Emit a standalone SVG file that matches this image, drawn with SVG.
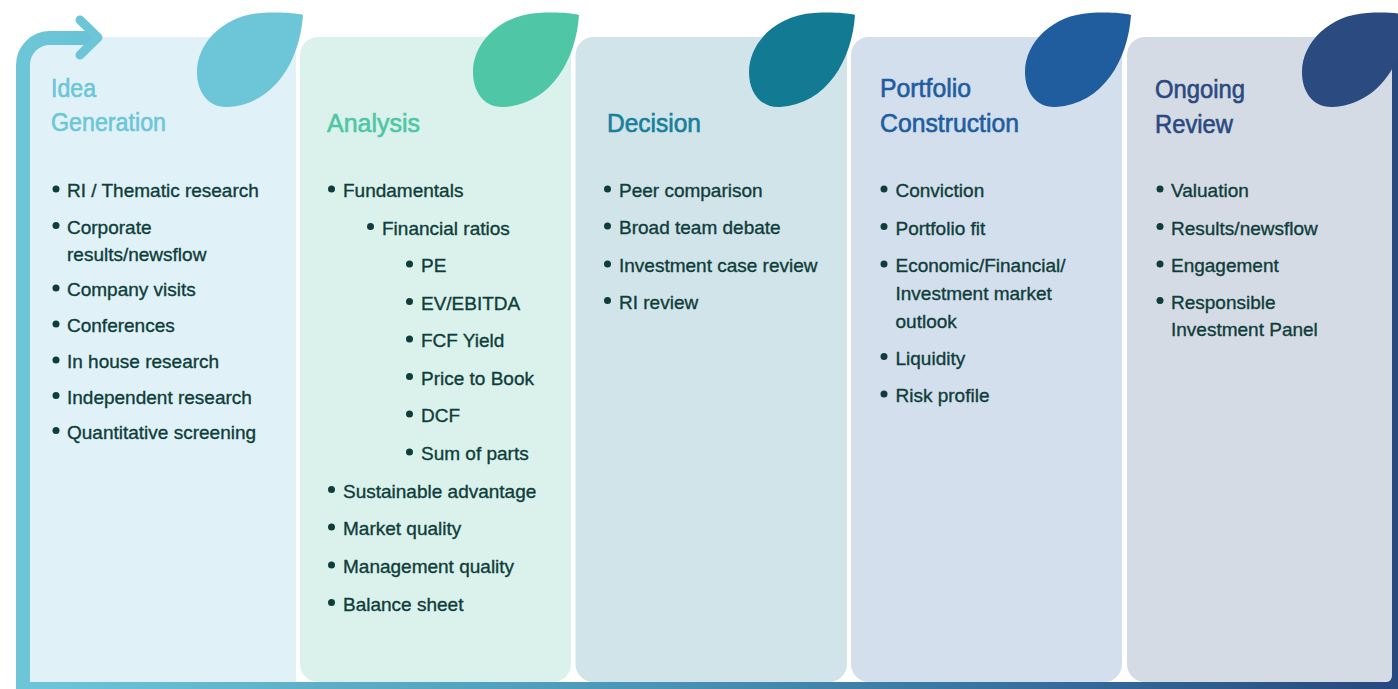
<svg xmlns="http://www.w3.org/2000/svg" width="1398" height="689" viewBox="0 0 1398 689">
<defs>
<linearGradient id="frameGrad" gradientUnits="userSpaceOnUse" x1="30" y1="0" x2="1398" y2="0">
<stop offset="0" stop-color="#6dc6d8"/>
<stop offset="0.45" stop-color="#4a95b6"/>
<stop offset="0.75" stop-color="#356c9b"/>
<stop offset="1" stop-color="#284880"/>
</linearGradient>
<path id="leaf" d="M 303,15 C 300,60 275,104 228,107 C 208,108 197,92 197,72 C 197,42 225,15 262,13 C 280,12 295,13 303,15 Z"/>
</defs>
<style>
.title{font-family:"Liberation Sans",Arial,sans-serif;font-size:25px;stroke-width:0.6px}
.item{font-family:"Liberation Sans",Arial,sans-serif;font-size:19px;fill:#0f3d3a;stroke:#0f3d3a;stroke-width:0.35px}
.dot{fill:#0f3d3a}
</style>
<rect width="1398" height="689" fill="#ffffff"/>

<g id="panels">
<rect x="24" y="37" width="272" height="660" rx="18" fill="#e0f2f7"/>
<rect x="300" y="37" width="271" height="645" rx="18" fill="#dbf2ec"/>
<rect x="575.5" y="37" width="271.5" height="645" rx="18" fill="#d1e4ea"/>
<rect x="851" y="37" width="271" height="645" rx="18" fill="#d3dfec"/>
<rect x="1127" y="37" width="272" height="645" rx="18" fill="#d5dbe5"/>
</g>

<g id="connectors">
<path d="M 96,38 H 50 A 27 27 0 0 0 23 65 V 689 H 1386 A 13 13 0 0 0 1399 676 V 45" fill="none" stroke="url(#frameGrad)" stroke-width="14"/>
<path d="M 80,20 L 98,37.5 L 80,55" fill="none" stroke="#6dc6d8" stroke-width="9" stroke-linecap="round" stroke-linejoin="round"/>
</g>

<g id="leaves">
<use href="#leaf" fill="#6dc6d8"/>
<use href="#leaf" x="276" fill="#4fc6a6"/>
<use href="#leaf" x="552" fill="#127a93"/>
<use href="#leaf" x="828" fill="#1f5d9f"/>
<use href="#leaf" x="1105" fill="#2a4a80"/>
</g>

<g id="idea-generation">
<text class="title" fill="#6dc6d8" stroke="#6dc6d8" x="51" y="97" textLength="45" lengthAdjust="spacingAndGlyphs">Idea</text>
<text class="title" fill="#6dc6d8" stroke="#6dc6d8" x="51" y="131" textLength="115" lengthAdjust="spacingAndGlyphs">Generation</text>
<circle class="dot" cx="56" cy="189" r="3.5"/><text class="item" x="67" y="197">RI / Thematic research</text>
<circle class="dot" cx="56" cy="225.5" r="3.5"/><text class="item" x="67" y="233.5">Corporate</text>
<text class="item" x="67" y="261">results/newsflow</text>
<circle class="dot" cx="56" cy="288" r="3.5"/><text class="item" x="67" y="296">Company visits</text>
<circle class="dot" cx="56" cy="324" r="3.5"/><text class="item" x="67" y="332">Conferences</text>
<circle class="dot" cx="56" cy="360" r="3.5"/><text class="item" x="67" y="368">In house research</text>
<circle class="dot" cx="56" cy="395.5" r="3.5"/><text class="item" x="67" y="403.5">Independent research</text>
<circle class="dot" cx="56" cy="430.5" r="3.5"/><text class="item" x="67" y="438.5">Quantitative screening</text>
</g>

<g id="analysis">
<text class="title" fill="#4fc6a6" stroke="#4fc6a6" x="327" y="132" textLength="93" lengthAdjust="spacingAndGlyphs">Analysis</text>
<circle class="dot" cx="331.5" cy="189" r="3.5"/><text class="item" x="343" y="197">Fundamentals</text>
<circle class="dot" cx="370.5" cy="226.5" r="3.5"/><text class="item" x="382" y="234.5">Financial ratios</text>
<circle class="dot" cx="409.5" cy="264" r="3.5"/><text class="item" x="421" y="272">PE</text>
<circle class="dot" cx="409.5" cy="301.5" r="3.5"/><text class="item" x="421" y="309.5">EV/EBITDA</text>
<circle class="dot" cx="409.5" cy="339" r="3.5"/><text class="item" x="421" y="347">FCF Yield</text>
<circle class="dot" cx="409.5" cy="376.5" r="3.5"/><text class="item" x="421" y="384.5">Price to Book</text>
<circle class="dot" cx="409.5" cy="414" r="3.5"/><text class="item" x="421" y="422">DCF</text>
<circle class="dot" cx="409.5" cy="452" r="3.5"/><text class="item" x="421" y="460">Sum of parts</text>
<circle class="dot" cx="331.5" cy="489.5" r="3.5"/><text class="item" x="343" y="497.5">Sustainable advantage</text>
<circle class="dot" cx="331.5" cy="527" r="3.5"/><text class="item" x="343" y="535">Market quality</text>
<circle class="dot" cx="331.5" cy="565" r="3.5"/><text class="item" x="343" y="573">Management quality</text>
<circle class="dot" cx="331.5" cy="602.5" r="3.5"/><text class="item" x="343" y="610.5">Balance sheet</text>
</g>

<g id="decision">
<text class="title" fill="#17809a" stroke="#17809a" x="607" y="132" textLength="94" lengthAdjust="spacingAndGlyphs">Decision</text>
<circle class="dot" cx="607.5" cy="189" r="3.5"/><text class="item" x="619" y="197">Peer comparison</text>
<circle class="dot" cx="607.5" cy="226" r="3.5"/><text class="item" x="619" y="234">Broad team debate</text>
<circle class="dot" cx="607.5" cy="264" r="3.5"/><text class="item" x="619" y="272">Investment case review</text>
<circle class="dot" cx="607.5" cy="300.5" r="3.5"/><text class="item" x="619" y="308.5">RI review</text>
</g>

<g id="portfolio-construction">
<text class="title" fill="#1f5d9f" stroke="#1f5d9f" x="880" y="97" textLength="91" lengthAdjust="spacingAndGlyphs">Portfolio</text>
<text class="title" fill="#1f5d9f" stroke="#1f5d9f" x="880" y="132" textLength="139" lengthAdjust="spacingAndGlyphs">Construction</text>
<circle class="dot" cx="884" cy="189" r="3.5"/><text class="item" x="895.5" y="197">Conviction</text>
<circle class="dot" cx="884" cy="226.5" r="3.5"/><text class="item" x="895.5" y="234.5">Portfolio fit</text>
<circle class="dot" cx="884" cy="264" r="3.5"/><text class="item" x="895.5" y="272">Economic/Financial/</text>
<text class="item" x="895.5" y="299.5">Investment market</text>
<text class="item" x="895.5" y="327.5">outlook</text>
<circle class="dot" cx="884" cy="356.5" r="3.5"/><text class="item" x="895.5" y="364.5">Liquidity</text>
<circle class="dot" cx="884" cy="394" r="3.5"/><text class="item" x="895.5" y="402">Risk profile</text>
</g>

<g id="ongoing-review">
<text class="title" fill="#2a4a80" stroke="#2a4a80" x="1155" y="98" textLength="90" lengthAdjust="spacingAndGlyphs">Ongoing</text>
<text class="title" fill="#2a4a80" stroke="#2a4a80" x="1155" y="132.5" textLength="78" lengthAdjust="spacingAndGlyphs">Review</text>
<circle class="dot" cx="1160" cy="189" r="3.5"/><text class="item" x="1171" y="197">Valuation</text>
<circle class="dot" cx="1160" cy="226.5" r="3.5"/><text class="item" x="1171" y="234.5">Results/newsflow</text>
<circle class="dot" cx="1160" cy="264" r="3.5"/><text class="item" x="1171" y="272">Engagement</text>
<circle class="dot" cx="1160" cy="300.5" r="3.5"/><text class="item" x="1171" y="308.5">Responsible</text>
<text class="item" x="1171" y="336">Investment Panel</text>
</g>
</svg>
